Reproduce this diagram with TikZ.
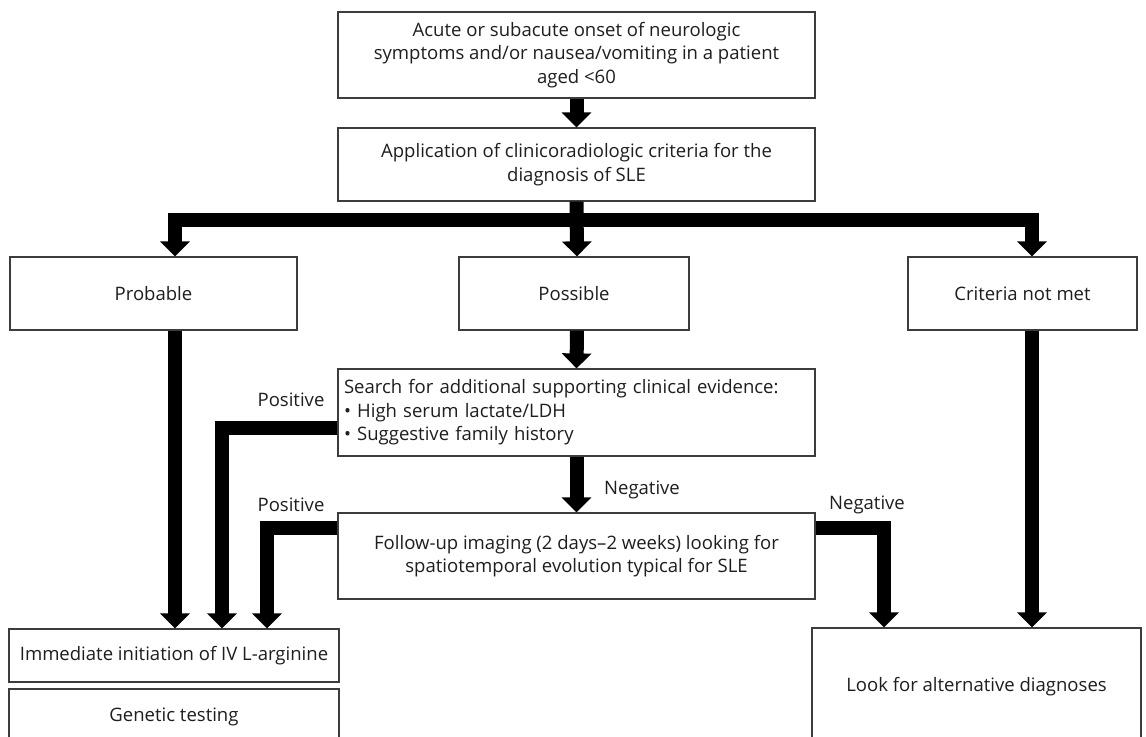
\documentclass[tikz,border=0pt]{standalone}
\usepackage{fontspec}
\setmainfont{Open Sans}
\usepackage{tikz}
\usetikzlibrary{arrows.meta, positioning, calc}
\definecolor{boxline}{RGB}{60, 60, 60}
\definecolor{textdark}{RGB}{30, 30, 30}
\newcommand{\pxu}{0.75pt}

\tikzset{
  flowbox/.style={draw=boxline, line width=0.9pt, fill=white, text=textdark,
    align=center, inner sep=0pt, minimum height=73*\pxu,
    font=\fontsize{13.9}{17.6}\selectfont},
  fat/.style={line width=14*\pxu, line join=miter, line cap=butt,
    -{Triangle[width=29*\pxu, length=15*\pxu]}},
  tag/.style={text=textdark, font=\fontsize{13.9}{17.6}\selectfont}
}

\begin{document}
\begin{tikzpicture}[x=\pxu, y=-\pxu]
  \useasboundingbox (0,0) rectangle (1146,737);

  % boxes
  \node[flowbox, minimum width=477*\pxu, minimum height=86*\pxu] (onset) at (576.5,55)
    {Acute or subacute onset of neurologic\\symptoms and/or nausea/vomiting in a patient\\aged <60};
  \node[flowbox, minimum width=477*\pxu] (crit) at (576.5,164.5)
    {Application of clinicoradiologic criteria for the\\diagnosis of SLE};
  \node[flowbox, minimum width=287*\pxu] (prob) at (153.5,293.5) {Probable};
  \node[flowbox, minimum width=230*\pxu] (poss) at (574,293.5) {Possible};
  \node[flowbox, minimum width=229*\pxu] (notmet) at (1022.5,293.5) {Criteria not met};
  \node[flowbox, minimum width=477*\pxu, minimum height=87*\pxu, align=left,
        text width=465*\pxu] (search) at (576.5,412.5)
    {Search for additional supporting clinical evidence:\\
     • High serum lactate/LDH\\
     • Suggestive family history};
  \node[flowbox, minimum width=477*\pxu, minimum height=86*\pxu] (follow) at (576.5,556)
    {Follow-up imaging (2 days–2 weeks) looking for\\spatiotemporal evolution typical for SLE};
  \node[flowbox, minimum width=330*\pxu, minimum height=53*\pxu] (ivarg) at (174,655.5)
    {Immediate initiation of IV L-arginine};
  \node[flowbox, minimum width=330*\pxu, minimum height=56*\pxu] (genetic) at (174,717)
    {Genetic testing};
  \node[flowbox, minimum width=329*\pxu, minimum height=118*\pxu] (altdx) at (976.5,687)
    {Look for alternative diagnoses};

  % columns and rows for the connectors
  \coordinate (split) at (577,220);
  \coordinate (colP) at (175,0);
  \coordinate (colA) at (222,0);
  \coordinate (colB) at (267,0);
  \coordinate (colN) at (884,0);
  \coordinate (colR) at (1032,0);
  \coordinate (rowA) at (0,428);
  \coordinate (rowB) at (0,528);

  % connectors
  \draw[fat] (onset.south) -- (crit.north);
  \draw[fat] (crit.south) -- (poss.north -| split);
  \draw[fat] (split) -| (prob.north -| colP);
  \draw[fat] (split) -| (notmet.north -| colR);
  \draw[fat] (poss.south -| split) -- (search.north);
  \draw[fat] (search.south) -- (follow.north);
  \draw[fat] (prob.south -| colP) -- (ivarg.north -| colP);
  \draw[fat] (search.west |- rowA) -| (ivarg.north -| colA);
  \draw[fat] (follow.west |- rowB) -| (ivarg.north -| colB);
  \draw[fat] (follow.east |- rowB) -| (altdx.north -| colN);
  \draw[fat] (notmet.south -| colR) -- (altdx.north -| colR);

  % labels
  \node[tag] (posA) at (291,400) {Positive};
  \node[tag] (posB) at (291,505) {Positive};
  \node[tag] (negA) at (642,490) {Negative};
  \node[tag] (negB) at (867,505) {Negative};
\end{tikzpicture}
\end{document}
